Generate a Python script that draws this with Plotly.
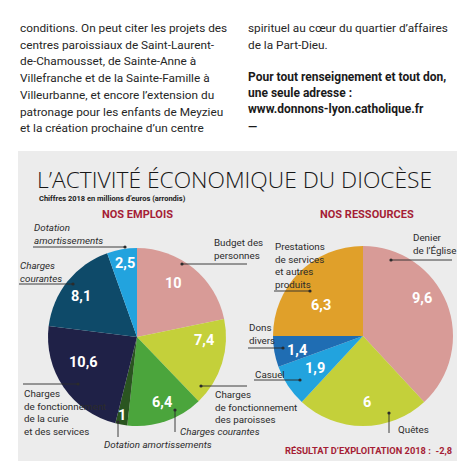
import plotly.graph_objects as go

# données (millions d'euros, arrondis)
emplois_labels = ['Budget des personnes', 'Charges de fonctionnement des paroisses',
                  'Charges courantes (paroisses)', 'Dotation amortissements (paroisses)',
                  'Charges de fonctionnement de la curie et des services',
                  'Charges courantes', 'Dotation amortissements']
emplois_values = [10, 7.4, 6.4, 1, 10.6, 8.1, 2.5]
emplois_colors = ['#d89b97', '#c4d03a', '#4ba53c', '#2a5520', '#1f2147', '#0e4a69', '#22a3de']

ressources_labels = ['Denier de l’Église', 'Quêtes', 'Casuel', 'Dons divers',
                     'Prestations de services et autres produits']
ressources_values = [9.6, 6, 1.9, 1.4, 6.3]
ressources_colors = ['#d89b97', '#c4d03a', '#22a3de', '#1f6db3', '#e0a02a']

resultat = -2.8

W, H = 470, 461


def px(x):
    return x / W


def py(y):
    return 1 - y / H


def fmt(v):
    return f'{v:g}'.replace('.', ',')


fig = go.Figure()

# camemberts : centre (px), rayon
pies = [
    (emplois_labels, emplois_values, emplois_colors, 137, 337, 89),
    (ressources_labels, ressources_values, ressources_colors, 363, 336, 90),
]
for labels, values, colors, cx, cy, r in pies:
    fig.add_trace(go.Pie(
        labels=labels,
        values=values,
        marker=dict(colors=colors, line=dict(width=0)),
        sort=False,
        direction='clockwise',
        rotation=0,
        textinfo='none',
        hoverinfo='label+value',
        showlegend=False,
        domain=dict(x=[px(cx - r), px(cx + r)], y=[py(cy + r), py(cy - r)]),
    ))

annotations = []
shapes = []

# fond gris de l'encadré
shapes.append(dict(type='rect', xref='paper', yref='paper', x0=px(18), x1=px(457),
                   y0=0, y1=py(151), fillcolor='#ececec', line=dict(width=0), layer='below'))


def txt(x, y, s, size=9.8, color='#2b2b2b', family='Roboto', italic=False, weight='normal',
        xanchor='left'):
    annotations.append(dict(
        x=px(x), y=py(y), xref='paper', yref='paper', text=s, showarrow=False,
        xanchor=xanchor, yanchor='middle', align='left', borderpad=0,
        font=dict(size=size, color=color, family=family, weight=weight,
                  style='italic' if italic else 'normal'),
    ))


# texte de l'article
left_col = [
    "conditions. On peut citer les projets des",
    "centres paroissiaux de Saint-Laurent-",
    "de-Chamousset, de Sainte-Anne à",
    "Villefranche et de la Sainte-Famille à",
    "Villeurbanne, et encore l’extension du",
    "patronage pour les enfants de Meyzieu",
    "et la création prochaine d’un centre",
]
for i, line in enumerate(left_col):
    txt(19, 28 + i * 16.7, line, size=11.8, color='#262626')
txt(247, 28, "spirituel au cœur du quartier d’affaires", size=11.8, color='#262626')
txt(247, 45, "de la Part-Dieu.", size=11.8, color='#262626')
txt(247, 77, "Pour tout renseignement et tout don,", size=12, color='#1a1a1a', weight='bold')
txt(247, 93, "une seule adresse :", size=12, color='#1a1a1a', weight='bold')
txt(247, 109, "www.donnons-lyon.catholique.fr", size=12, color='#1a1a1a', weight='bold')
txt(247, 127, "—", size=12, color='#1a1a1a', weight='bold')

# titres
txt(36, 179.5, "L’ACTIVITÉ ÉCONOMIQUE DU DIOCÈSE", size=22.8, color='#161616',
    family='Open Sans', weight=300)
txt(38, 198.5, "Chiffres 2018 en millions d’euros (arrondis)", size=7.5, color='#1a1a1a',
    weight='bold')
red = '#a51d35'
txt(137, 215, "NOS EMPLOIS", size=11, color=red, weight='bold', xanchor='center')
txt(367, 215, "NOS RESSOURCES", size=11, color=red, weight='bold', xanchor='center')
txt(284, 450, "RÉSULTAT D’EXPLOITATION 2018 :  " + fmt(resultat), size=9.3, color=red,
    weight='bold')

# valeurs dans les parts
emplois_pos = [(173, 283), (204, 340), (162, 402), (122, 415), (83, 362), (81, 296), (125, 263)]
ressources_pos = [(422, 298), (367, 402), (315, 368), (297, 350), (321, 305)]
for vals, pos in [(emplois_values, emplois_pos), (ressources_values, ressources_pos)]:
    for v, (x, y) in zip(vals, pos):
        txt(x, y, fmt(v), size=14.5, color='white', weight='bold', xanchor='center')

# étiquettes et traits de rappel
lab = '#2b2b2b'
txt(33, 234, "Dotation<br>amortissements", italic=True)
txt(19, 272, "Charges<br>courantes", italic=True)
txt(213, 249, "Budget des<br>personnes")
txt(214, 407, "Charges<br>de fonctionnement<br>des paroisses")
txt(179, 431, "Charges courantes", italic=True)
txt(103, 444, "Dotation amortissements", italic=True)
txt(23, 412, "Charges<br>de fonctionnement<br>de la curie<br>et des services")
txt(274, 265, "Prestations<br>de services<br>et autres<br>produits")
txt(412, 244, "Denier<br>de l’Église")
txt(248, 334, "Dons<br>divers")
txt(254, 374, "Casuel")
txt(397, 429, "Quêtes")

# (x0, y0, x1, y1) avec point en x1, y1
leaders = [
    (33, 247, 125, 247),
    (19, 284, 73, 284),
    (247, 264, 182, 264),
    (247, 386, 201, 386),
    (175, 432, 175, 410),
    (118, 437, 118, 422),
    (23, 384, 78, 384),
    (274, 291, 310, 291),
    (452, 260, 391, 260),
    (248, 348, 283, 348),
    (254, 380, 300, 380),
    (389, 433, 389, 413),
]
for x0, y0, x1, y1 in leaders:
    shapes.append(dict(type='line', xref='paper', yref='paper', x0=px(x0), y0=py(y0),
                       x1=px(x1), y1=py(y1), line=dict(color=lab, width=0.9)))
    rr = 1.6
    shapes.append(dict(type='circle', xref='paper', yref='paper',
                       x0=px(x1 - rr), x1=px(x1 + rr), y0=py(y1 + rr), y1=py(y1 - rr),
                       fillcolor=lab, line=dict(width=0)))

fig.update_layout(
    width=W,
    height=H,
    margin=dict(l=0, r=0, t=0, b=0),
    paper_bgcolor='white',
    plot_bgcolor='white',
    annotations=annotations,
    shapes=shapes,
    showlegend=False,
)

fig.write_html("out.html", config={'displayModeBar': False},
               post_script="document.body.style.margin='0';")
